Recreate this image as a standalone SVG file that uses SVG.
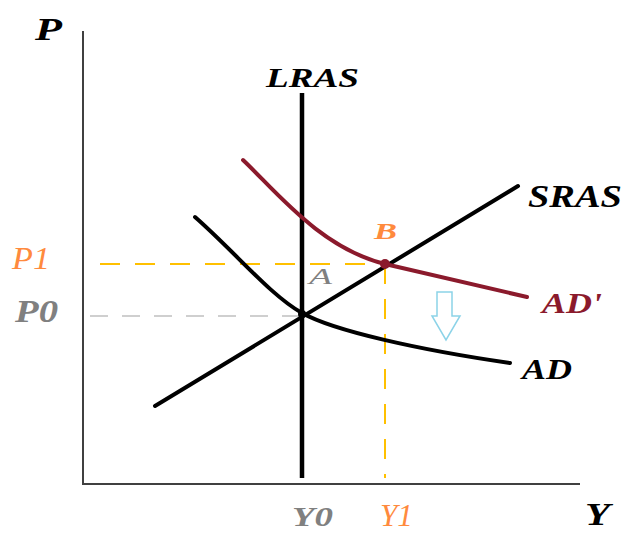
<svg xmlns="http://www.w3.org/2000/svg" width="625" height="533" viewBox="0 0 625 533">
<style>
.lbl{font-family:"Liberation Serif","Times New Roman",serif;font-style:italic;font-weight:bold;}
.reg{font-weight:normal;}
.blk{fill:#000;}
.gry{fill:#808080;}
.org{fill:#FF8A3D;}
.red{fill:#8B1A2C;}
.curve{fill:none;stroke-linecap:round;stroke-linejoin:round;}
</style>
<rect width="625" height="533" fill="#fff"/>
<g id="axes">
  <path d="M83,31 V484 H580" fill="none" stroke="#404040" stroke-width="2"/>
  <text class="lbl blk" x="35" y="40" font-size="32" textLength="27" lengthAdjust="spacingAndGlyphs">P</text>
  <text class="lbl blk" x="585" y="525" font-size="32" textLength="25" lengthAdjust="spacingAndGlyphs">Y</text>
</g>
<g id="connectors">
  <line x1="100" y1="264" x2="384" y2="264" stroke="#FFC000" stroke-width="2" stroke-dasharray="20,15"/>
  <line x1="90" y1="316" x2="302" y2="316" stroke="#C0C0C0" stroke-width="1.5" stroke-dasharray="18,14"/>
  <line x1="385" y1="264" x2="385" y2="478" stroke="#FFC000" stroke-width="2" stroke-dasharray="20,15"/>
</g>
<g id="LRAS">
  <line x1="302" y1="93" x2="302" y2="478" stroke="#000" stroke-width="4.5"/>
  <text class="lbl blk" x="266" y="87" font-size="28" textLength="93" lengthAdjust="spacingAndGlyphs">LRAS</text>
</g>
<g id="SRAS">
  <line class="curve" x1="155" y1="406" x2="518" y2="186" stroke="#000" stroke-width="4"/>
  <text class="lbl blk" x="528" y="207" font-size="31" textLength="94" lengthAdjust="spacingAndGlyphs">SRAS</text>
</g>
<g id="AD">
  <path class="curve" d="M195,217 C235,252 270,295 302,313 S420,350 510,363" stroke="#000" stroke-width="4"/>
  <text class="lbl blk" x="522" y="379" font-size="29" textLength="50" lengthAdjust="spacingAndGlyphs">AD</text>
</g>
<g id="ADprime">
  <path class="curve" d="M243,160 C275,190 320,248 385,264 L527,297" stroke="#8B1A2C" stroke-width="4"/>
  <text class="lbl red" x="542" y="313" font-size="29" textLength="60" lengthAdjust="spacingAndGlyphs">AD'</text>
</g>
<g id="pointA">
  <circle cx="302" cy="314" r="4" fill="#000"/>
  <text class="lbl reg gry" x="309" y="284" font-size="24" textLength="23" lengthAdjust="spacingAndGlyphs">A</text>
</g>
<g id="pointB">
  <circle cx="385" cy="264" r="5" fill="#8B1A2C"/>
  <text class="lbl org" x="374" y="239" font-size="24" textLength="23" lengthAdjust="spacingAndGlyphs">B</text>
</g>
<g id="priceLabels">
  <text class="lbl reg org" x="12" y="269" font-size="31" textLength="38" lengthAdjust="spacingAndGlyphs">P1</text>
  <text class="lbl gry" x="15" y="322" font-size="31" textLength="43" lengthAdjust="spacingAndGlyphs">P0</text>
</g>
<g id="outputLabels">
  <text class="lbl gry" x="292" y="526" font-size="28" textLength="41" lengthAdjust="spacingAndGlyphs">Y0</text>
  <text class="lbl reg org" x="380" y="526" font-size="31" textLength="33" lengthAdjust="spacingAndGlyphs">Y1</text>
</g>
<g id="shiftArrow">
  <polygon points="437,292 452,292 452,316 460,316 446,340 432,316 437,316" fill="#fff" stroke="#8CD3E8" stroke-width="1.5" stroke-linejoin="miter"/>
</g>
</svg>
